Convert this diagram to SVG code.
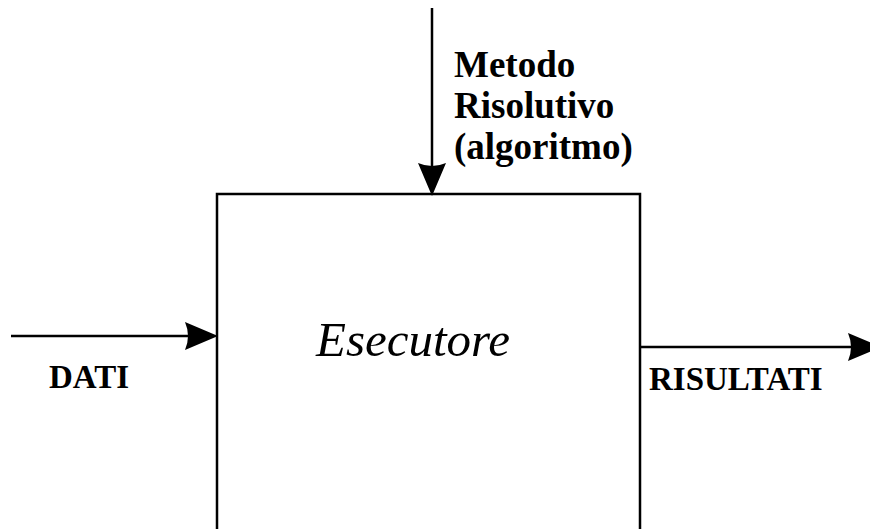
<svg xmlns="http://www.w3.org/2000/svg" width="870" height="529" viewBox="0 0 870 529">
<style>
.lbl{font-family:"Liberation Serif","Times New Roman",serif;font-weight:bold;fill:#000}
.ln{stroke:#000;stroke-width:2.5;fill:none}
.hd{fill:#000}
</style>
<rect width="870" height="529" fill="#fff"/>
<g id="esecutore">
<path class="ln" d="M217,535 V194 H640 V535"/>
<text x="316" y="356" font-family="'Liberation Serif','Times New Roman',serif" font-style="italic" font-size="49" fill="#000">Esecutore</text>
</g>
<g id="connectors">
<g id="metodo-arrow">
<line class="ln" x1="432" y1="8" x2="432" y2="170"/>
<path class="hd" d="M432,196 L418,163 Q432,169 446,163 Z"/>
</g>
<g id="dati-arrow">
<line class="ln" x1="11" y1="336" x2="190" y2="336"/>
<path class="hd" d="M218,336 L185,322 Q191,336 185,350 Z"/>
</g>
<g id="risultati-arrow">
<line class="ln" x1="640" y1="347" x2="852" y2="347"/>
<path class="hd" d="M881,347 L848,333 Q854,347 848,361 Z"/>
</g>
</g>
<g id="label-metodo">
<text class="lbl" font-size="37" x="454" y="77">Metodo</text>
<text class="lbl" font-size="37" x="454" y="118">Risolutivo</text>
<text class="lbl" font-size="37" x="454" y="159">(algoritmo)</text>
</g>
<g id="label-dati"><text class="lbl" font-size="33" x="49" y="388">DATI</text></g>
<g id="label-risultati"><text class="lbl" font-size="33" x="649" y="390">RISULTATI</text></g>
</svg>
